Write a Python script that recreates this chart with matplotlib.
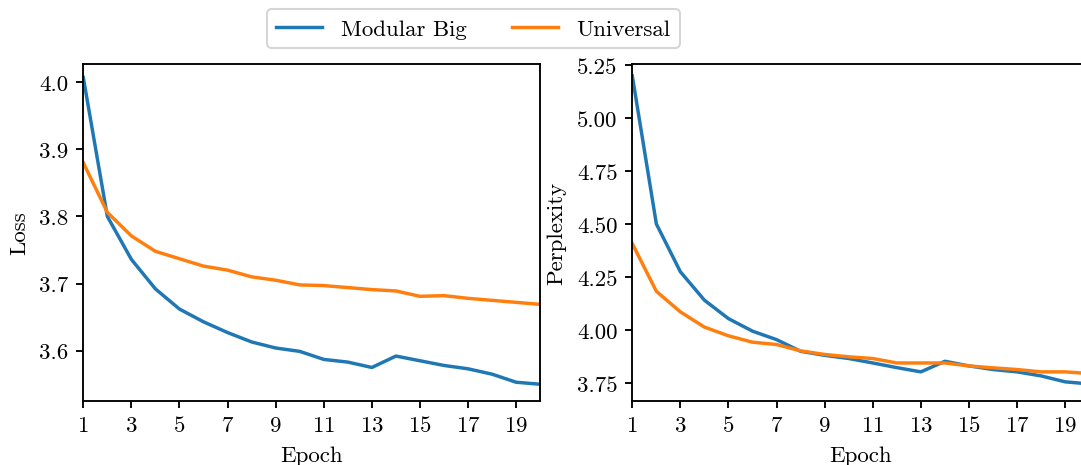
import matplotlib
matplotlib.use("Agg")
import matplotlib.pyplot as plt

plt.rcParams['font.family'] = 'serif'
plt.rcParams['font.serif'] = ['cmr10', 'DejaVu Serif']
plt.rcParams['mathtext.fontset'] = 'cm'
plt.rcParams['axes.formatter.use_mathtext'] = True
plt.rcParams['font.size'] = 11

epochs = list(range(1, 21))

loss_modular_big = [4.007, 3.800, 3.736, 3.692, 3.662, 3.643, 3.627, 3.613, 3.604, 3.599,
                    3.587, 3.583, 3.575, 3.592, 3.585, 3.578, 3.573, 3.565, 3.553, 3.550]
loss_universal = [3.880, 3.806, 3.771, 3.748, 3.737, 3.726, 3.720, 3.710, 3.705, 3.698,
                  3.697, 3.694, 3.691, 3.689, 3.681, 3.682, 3.678, 3.675, 3.672, 3.669]

ppl_modular_big = [5.198, 4.500, 4.274, 4.140, 4.053, 3.994, 3.954, 3.899, 3.880, 3.865,
                   3.844, 3.822, 3.802, 3.852, 3.830, 3.813, 3.802, 3.783, 3.755, 3.745]
ppl_universal = [4.407, 4.182, 4.085, 4.013, 3.972, 3.942, 3.931, 3.901, 3.884, 3.873,
                 3.865, 3.844, 3.844, 3.844, 3.830, 3.821, 3.813, 3.802, 3.802, 3.794]

series_labels = ["Modular Big", "Universal"]
xticks = [1, 3, 5, 7, 9, 11, 13, 15, 17, 19]
loss_yticks = [3.6, 3.7, 3.8, 3.9, 4.0]
ppl_yticks = [3.75, 4.00, 4.25, 4.50, 4.75, 5.00, 5.25]

W, H = 1081, 466
dpi = 150
fig = plt.figure(figsize=(W / dpi, H / dpi), dpi=dpi)

def frac(x0, x1, ytop, ybot):
    return [x0 / W, 1 - ybot / H, (x1 - x0) / W, (ybot - ytop) / H]

ax1 = fig.add_axes(frac(83.3, 540.2, 64.6, 401.7))
ax2 = fig.add_axes(frac(632.3, 1089.2, 64.6, 401.7))

c_blue = '#1f77b4'
c_orange = '#ff7f0e'
lw = 1.65

l1, = ax1.plot(epochs, loss_modular_big, color=c_blue, lw=lw, label=series_labels[0])
l2, = ax1.plot(epochs, loss_universal, color=c_orange, lw=lw, label=series_labels[1])
ax1.set_xlim(1, 20)
ax1.set_ylim(3.5255, 4.0277)
ax1.set_xticks(xticks)
ax1.set_yticks(loss_yticks)
ax1.set_yticklabels([f"{v:.1f}" for v in loss_yticks])
ax1.set_xlabel("Epoch", labelpad=5)
ax1.set_ylabel("Loss", labelpad=5)

ax2.plot(epochs, ppl_modular_big, color=c_blue, lw=lw)
ax2.plot(epochs, ppl_universal, color=c_orange, lw=lw)
ax2.set_xlim(1, 20)
ax2.set_ylim(3.666, 5.256)
ax2.set_xticks(xticks)
ax2.set_yticks(ppl_yticks)
ax2.set_yticklabels([f"{v:.2f}" for v in ppl_yticks])
ax2.set_xlabel("Epoch", labelpad=5)
ax2.set_ylabel("Perplexity", labelpad=5)

for ax in (ax1, ax2):
    for s in ax.spines.values():
        s.set_linewidth(0.9)
    ax.tick_params(width=0.9)

fig.legend(handles=[l1, l2], labels=series_labels, loc='upper center', ncol=2,
           bbox_to_anchor=(473.5 / W, 1 + 1 / H), frameon=True)

fig.savefig("out.png", dpi=dpi)
